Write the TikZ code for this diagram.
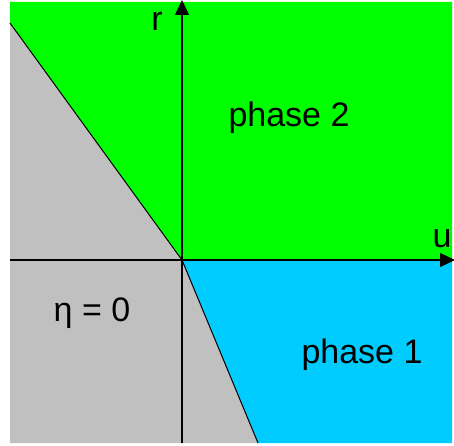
\documentclass[tikz,border=0pt]{standalone}
\usepackage{fontspec}
\setmainfont{Liberation Sans}
\usetikzlibrary{arrows.meta,calc,positioning}
\definecolor{phasegreen}{RGB}{0,255,0}
\definecolor{phasecyan}{RGB}{0,204,255}
\definecolor{phasegray}{RGB}{192,192,192}
\tikzset{
  axis/.style={-{Triangle[length=15pt,width=14pt]}, line width=1.4pt, black},
  boundary/.style={line width=1pt, black},
  region/.style={draw=none},
  label/.style={font=\fontsize{34}{40}\selectfont, inner sep=0pt}
}
\begin{document}
\begin{tikzpicture}[x=1pt, y=1pt]
\useasboundingbox (0,0) rectangle (454,445);

% corners and points
\coordinate (O) at (182,185);
\coordinate (A) at (10,422);
\coordinate (B) at (258,2);
\coordinate (TL) at (10,443);
\coordinate (TR) at (452,443);
\coordinate (BR) at (452,2);
\coordinate (BL) at (10,2);
\coordinate (R) at (452,185);

% regions
\fill[region, phasegreen] (A) -- (TL) -- (TR) -- (R) -- (O) -- cycle;
\fill[region, phasecyan] (O) -- (R) -- (BR) -- (B) -- cycle;
\fill[region, phasegray] (A) -- (O) -- (B) -- (BL) -- cycle;

% phase boundaries
\draw[boundary] (A) -- (O) -- (B);

% axes
\coordinate (uL) at (10,185);
\coordinate (uR) at (455,185);
\coordinate (rB) at (182,2);
\coordinate (rT) at (182,445);
\draw[axis] (uL) -- (uR);
\draw[axis] (rB) -- (rT);

% labels
\node[label] (rlab) at (157,424) {r};
\node[label] (ulab) at (442,206) {u};
\node[label] (ph2) at (289,327) {phase 2};
\node[label] (ph1) at (362,90) {phase 1};
\node[label] (eta) at (92,132) {η = 0};

\end{tikzpicture}
\end{document}
